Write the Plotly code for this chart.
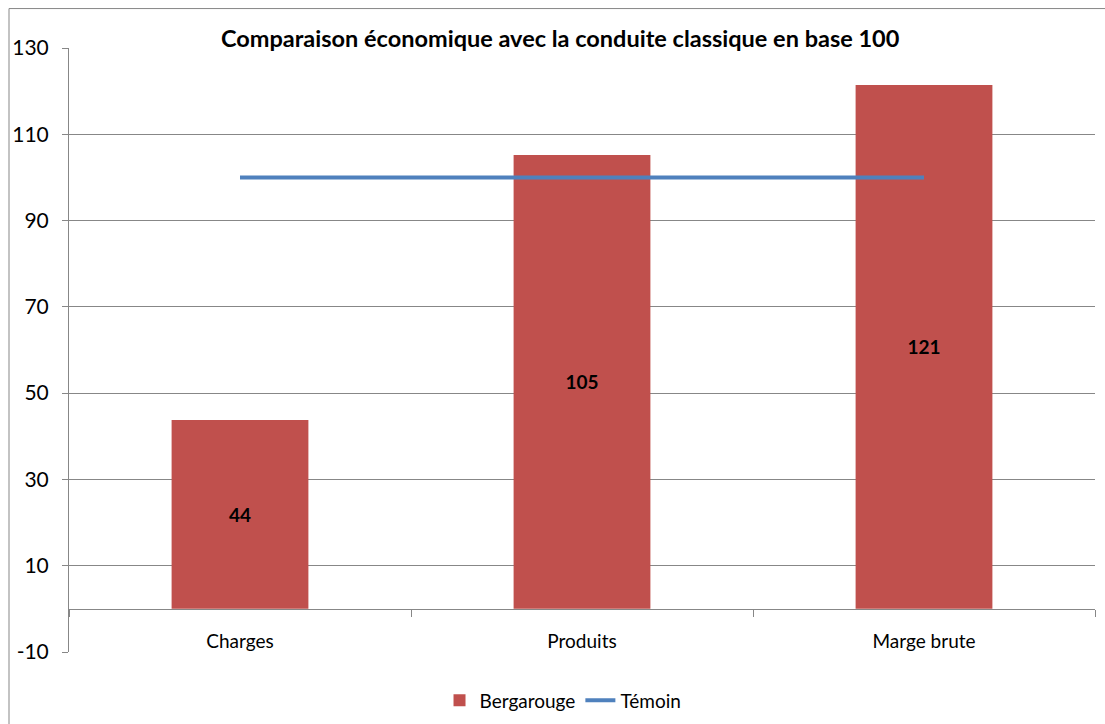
import plotly.graph_objects as go

categories = ["Charges", "Produits", "Marge brute"]
bergarouge = [43.8, 105.2, 121.4]
temoin = [100, 100, 100]
y_ticks = [-10, 10, 30, 50, 70, 90, 110, 130]
y_tick_labels = [str(v) for v in y_ticks]

FONT = "Lato, Liberation Sans, Arial, sans-serif"
GRID = "#878787"

fig = go.Figure()
fig.add_trace(go.Bar(
    x=categories, y=bergarouge, name="Bergarouge",
    marker=dict(color="#C0504D", line=dict(width=0)),
    width=0.4,
    text=[f"{v:.0f}" for v in bergarouge],
    textposition="inside", insidetextanchor="middle",
    textfont=dict(family=FONT, size=19, color="#000000", weight="bold"),
))
fig.add_trace(go.Scatter(
    x=categories, y=temoin, name="Témoin", mode="lines",
    line=dict(color="#4F81BD", width=4),
))

fig.update_layout(
    width=1105, height=724,
    margin=dict(l=69, r=10, t=48, b=72, autoexpand=False),
    paper_bgcolor="white", plot_bgcolor="white",
    font=dict(family=FONT, size=19, color="#000000"),
    showlegend=True,
    legend=dict(orientation="h", x=0.4815, xanchor="center", y=-0.08, yanchor="middle",
                font=dict(family=FONT, size=19), traceorder="normal"),
    xaxis=dict(
        type="category", range=[-0.5, 2.5],
        anchor="free", position=10 / 140,
        showline=True, linecolor=GRID, linewidth=1,
        ticks="outside", tickson="boundaries", ticklen=7, tickcolor=GRID,
        showgrid=False, zeroline=False, automargin=False,
        ticklabelstandoff=15,
        tickfont=dict(family=FONT, size=19, color="#000000"),
    ),
    yaxis=dict(
        range=[-10, 130], tickvals=y_ticks, ticktext=y_tick_labels,
        showgrid=True, gridcolor=GRID, gridwidth=1,
        showline=True, linecolor=GRID, linewidth=1,
        ticks="outside", ticklen=6, tickcolor=GRID,
        zeroline=False, automargin=False,
        ticklabelstandoff=9,
        tickfont=dict(family=FONT, size=21, color="#000000"),
    ),
    bargap=0.6,
)

fig.add_annotation(
    text="<b>Comparaison économique avec la conduite classique en base 100</b>",
    xref="paper", yref="paper", x=0.479, y=1.017, xanchor="center", yanchor="middle",
    showarrow=False, font=dict(family=FONT, size=23.5, color="#000000"),
)

# outer chart-area frame
fig.add_shape(type="rect", xref="paper", yref="paper",
              x0=(9 - 69) / 1026, x1=(1120 - 69) / 1026,
              y0=(652.3 - 740) / 604.8, y1=(652.3 - 8) / 604.8,
              line=dict(color=GRID, width=1), fillcolor="rgba(0,0,0,0)", layer="below")

fig.write_html("out.html", config={"displayModeBar": False},
               post_script="document.body.style.margin='0';document.body.style.overflow='hidden';")
